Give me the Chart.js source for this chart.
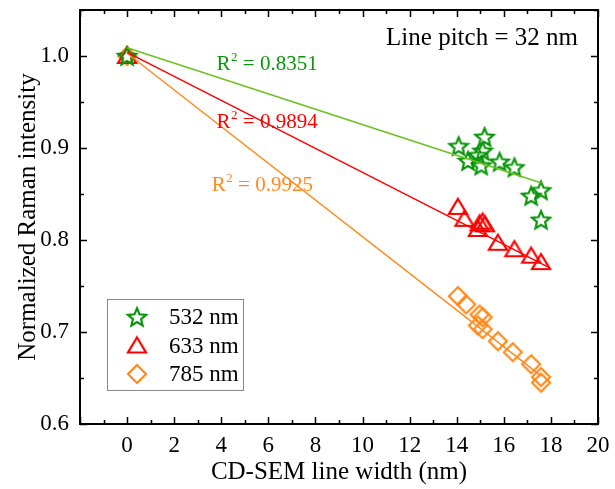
<!DOCTYPE html>
<html>
<head>
<meta charset="utf-8">
<script src="https://cdn.jsdelivr.net/npm/chart.js@4.4.1/dist/chart.umd.min.js"></script>
<style>
  body { margin: 0; background: #fff; }
  #wrap { width: 615px; height: 489px; }
</style>
</head>
<body>
<div id="wrap"><canvas id="chart"></canvas></div>
<script>
// 数据：三个激发波长的归一化拉曼强度
const x532 = [0, 14.08, 14.48, 14.9, 15.04, 15.1, 15.18, 15.82, 16.45, 17.16, 17.58, 17.58];
const y532 = [1.0, 0.902, 0.886, 0.892, 0.881, 0.897, 0.912, 0.885, 0.879, 0.848, 0.854, 0.822];
const x633 = [0, 14.05, 14.33, 14.9, 14.97, 15.1, 15.2, 15.75, 16.45, 17.16, 17.58];
const y633 = [1.0, 0.836, 0.823, 0.812, 0.818, 0.82, 0.817, 0.797, 0.79, 0.783, 0.776];
const x785 = [0, 14.05, 14.4, 14.9, 14.97, 15.1, 15.1, 15.75, 16.38, 17.16, 17.58, 17.58];
const y785 = [1.0, 0.739, 0.73, 0.707, 0.719, 0.716, 0.703, 0.69, 0.678, 0.665, 0.651, 0.645];

// 线性拟合线（两端点）
const fitX532 = [0, 17.6];
const fitY532 = [1.009, 0.862];
const fitX633 = [0, 17.85];
const fitY633 = [1.004, 0.771];
const fitX785 = [0, 17.6];
const fitY785 = [1.003, 0.652];

const seriesNames = ['532 nm', '633 nm', '785 nm'];
const r2Labels = ['0.8351', '0.9894', '0.9925'];
const xTicks = [0, 2, 4, 6, 8, 10, 12, 14, 16, 18, 20];
const yTicks = [0.6, 0.7, 0.8, 0.9, 1.0];

const GREEN = '#0a960a';
const GREEN_LINE = '#6cc020';
const RED = '#ff0000';
const ORANGE = '#ff8a1c';
const SERIF = '"Liberation Serif", "Times New Roman", serif';

function toPoints(xs, ys) {
    return xs.map((x, i) => ({ x: x, y: ys[i] }));
}

// 自定义点样式：五角星、三角形、菱形
function makeMarker(kind, color) {
    const size = 24;
    const c = document.createElement('canvas');
    c.width = size;
    c.height = size;
    const g = c.getContext('2d');
    const cx = size / 2, cy = size / 2;
    g.strokeStyle = color;
    g.lineWidth = 2.2;
    g.lineJoin = 'miter';
    g.beginPath();
    if (kind === 'star') {
        const ro = 9.5, ri = 4.3;
        for (let i = 0; i < 10; i++) {
            const r = i % 2 === 0 ? ro : ri;
            const a = -Math.PI / 2 + i * Math.PI / 5;
            const px = cx + r * Math.cos(a);
            const py = cy + 0.8 + r * Math.sin(a);
            if (i === 0) g.moveTo(px, py); else g.lineTo(px, py);
        }
    } else if (kind === 'triangle') {
        g.moveTo(cx, cy - 8);
        g.lineTo(cx + 9, cy + 7);
        g.lineTo(cx - 9, cy + 7);
    } else {
        g.moveTo(cx, cy - 9);
        g.lineTo(cx + 9, cy);
        g.lineTo(cx, cy + 9);
        g.lineTo(cx - 9, cy);
    }
    g.closePath();
    g.stroke();
    return c;
}

const starImg = makeMarker('star', GREEN);
const triImg = makeMarker('triangle', RED);
const diaImg = makeMarker('diamond', ORANGE);

// 坐标框、内向刻度、图例和文字注释
const decorPlugin = {
    id: 'decor',
    afterDatasetsDraw(chart) {
        const ctx = chart.ctx;
        const a = chart.chartArea;
        const xs = chart.scales.x;
        const ys = chart.scales.y;
        ctx.save();

        // 刻度
        ctx.strokeStyle = '#000';
        ctx.lineWidth = 1.5;
        ctx.beginPath();
        for (let v = -2; v <= 20; v += 1) {
            const px = Math.round(xs.getPixelForValue(v)) + 0.5;
            const len = v % 2 === 0 ? 7 : 4;
            ctx.moveTo(px, a.bottom); ctx.lineTo(px, a.bottom - len);
            ctx.moveTo(px, a.top); ctx.lineTo(px, a.top + len);
        }
        for (let k = 0; k <= 9; k++) {
            const v = 0.6 + k * 0.05;
            const py = Math.round(ys.getPixelForValue(v)) + 0.5;
            const len = k % 2 === 0 ? 7 : 4;
            ctx.moveTo(a.left, py); ctx.lineTo(a.left + len, py);
            ctx.moveTo(a.right, py); ctx.lineTo(a.right - len, py);
        }
        ctx.stroke();

        // 外框
        ctx.lineWidth = 2;
        ctx.strokeRect(a.left, a.top, a.right - a.left, a.bottom - a.top);

        // R² 标签
        const r2Pos = [[3.8, 0.985, GREEN], [3.8, 0.922, RED], [3.6, 0.853, ORANGE]];
        r2Pos.forEach((p, i) => {
            let px = xs.getPixelForValue(p[0]);
            const py = ys.getPixelForValue(p[1]);
            ctx.fillStyle = p[2];
            ctx.textBaseline = 'alphabetic';
            ctx.textAlign = 'left';
            ctx.font = '21px ' + SERIF;
            ctx.fillText('R', px, py);
            px += ctx.measureText('R').width;
            ctx.font = '13px ' + SERIF;
            ctx.fillText('2', px + 0.5, py - 9);
            px += ctx.measureText('2').width + 0.5;
            ctx.font = '21px ' + SERIF;
            ctx.fillText(' = ' + r2Labels[i], px, py);
        });

        // 右上角说明
        ctx.fillStyle = '#000';
        ctx.font = '25px ' + SERIF;
        ctx.fillText('Line pitch = 32 nm', xs.getPixelForValue(11.0), ys.getPixelForValue(1.012));

        // 图例
        const lx = 107, ly = 299, lw = 136, lh = 91;
        ctx.fillStyle = '#fff';
        ctx.fillRect(lx, ly, lw, lh);
        ctx.strokeStyle = '#888';
        ctx.lineWidth = 1;
        ctx.strokeRect(lx + 0.5, ly + 0.5, lw, lh);
        const imgs = [starImg, triImg, diaImg];
        ctx.fillStyle = '#000';
        ctx.font = '23px ' + SERIF;
        ctx.textBaseline = 'middle';
        imgs.forEach((img, i) => {
            const cy = ly + 18 + i * 28.5;
            ctx.drawImage(img, 137 - img.width / 2, cy - img.height / 2);
            ctx.fillText(seriesNames[i], 169, cy + 1);
        });
        ctx.restore();
    }
};

const ctx = document.getElementById('chart').getContext('2d');
new Chart(ctx, {
    type: 'scatter',
    data: {
        datasets: [
            { data: toPoints(fitX532, fitY532), showLine: true, borderColor: GREEN_LINE, borderWidth: 1.5, pointRadius: 0 },
            { data: toPoints(fitX633, fitY633), showLine: true, borderColor: RED, borderWidth: 1.5, pointRadius: 0 },
            { data: toPoints(fitX785, fitY785), showLine: true, borderColor: ORANGE, borderWidth: 1.5, pointRadius: 0 },
            { label: seriesNames[0], data: toPoints(x532, y532), pointStyle: starImg },
            { label: seriesNames[1], data: toPoints(x633, y633), pointStyle: triImg },
            { label: seriesNames[2], data: toPoints(x785, y785), pointStyle: diaImg }
        ]
    },
    options: {
        responsive: true,
        maintainAspectRatio: false,
        devicePixelRatio: 1,
        animation: false,
        layout: { padding: { left: 0, right: 17, top: 10, bottom: 0 } },
        plugins: {
            legend: { display: false },
            tooltip: { enabled: false }
        },
        scales: {
            x: {
                type: 'linear',
                min: -2,
                max: 20,
                afterBuildTicks(scale) { scale.ticks = xTicks.map(v => ({ value: v })); },
                afterFit(scale) {
                    scale.height = 65;
                    scale.paddingLeft = 0;
                    scale.paddingRight = 0;
                },
                grid: { display: false, drawTicks: false },
                border: { display: false },
                ticks: {
                    color: '#000',
                    padding: 8,
                    maxRotation: 0,
                    font: { family: SERIF, size: 23 }
                },
                title: {
                    display: true,
                    text: 'CD-SEM line width (nm)',
                    color: '#000',
                    padding: { top: 0, bottom: 2 },
                    font: { family: SERIF, size: 25, lineHeight: 1.2 }
                }
            },
            y: {
                type: 'linear',
                min: 0.6,
                max: 1.05,
                afterBuildTicks(scale) { scale.ticks = yTicks.map(v => ({ value: v })); },
                afterFit(scale) {
                    scale.width = 80;
                    scale.paddingTop = 0;
                    scale.paddingBottom = 0;
                },
                grid: { display: false, drawTicks: false },
                border: { display: false },
                ticks: {
                    color: '#000',
                    padding: 11,
                    font: { family: SERIF, size: 23 },
                    callback: v => v.toFixed(1)
                },
                title: {
                    display: true,
                    text: 'Normalized Raman intensity',
                    color: '#000',
                    padding: { top: 13, bottom: 0 },
                    font: { family: SERIF, size: 25, lineHeight: 1.2 }
                }
            }
        }
    },
    plugins: [decorPlugin]
});
</script>
</body>
</html>
